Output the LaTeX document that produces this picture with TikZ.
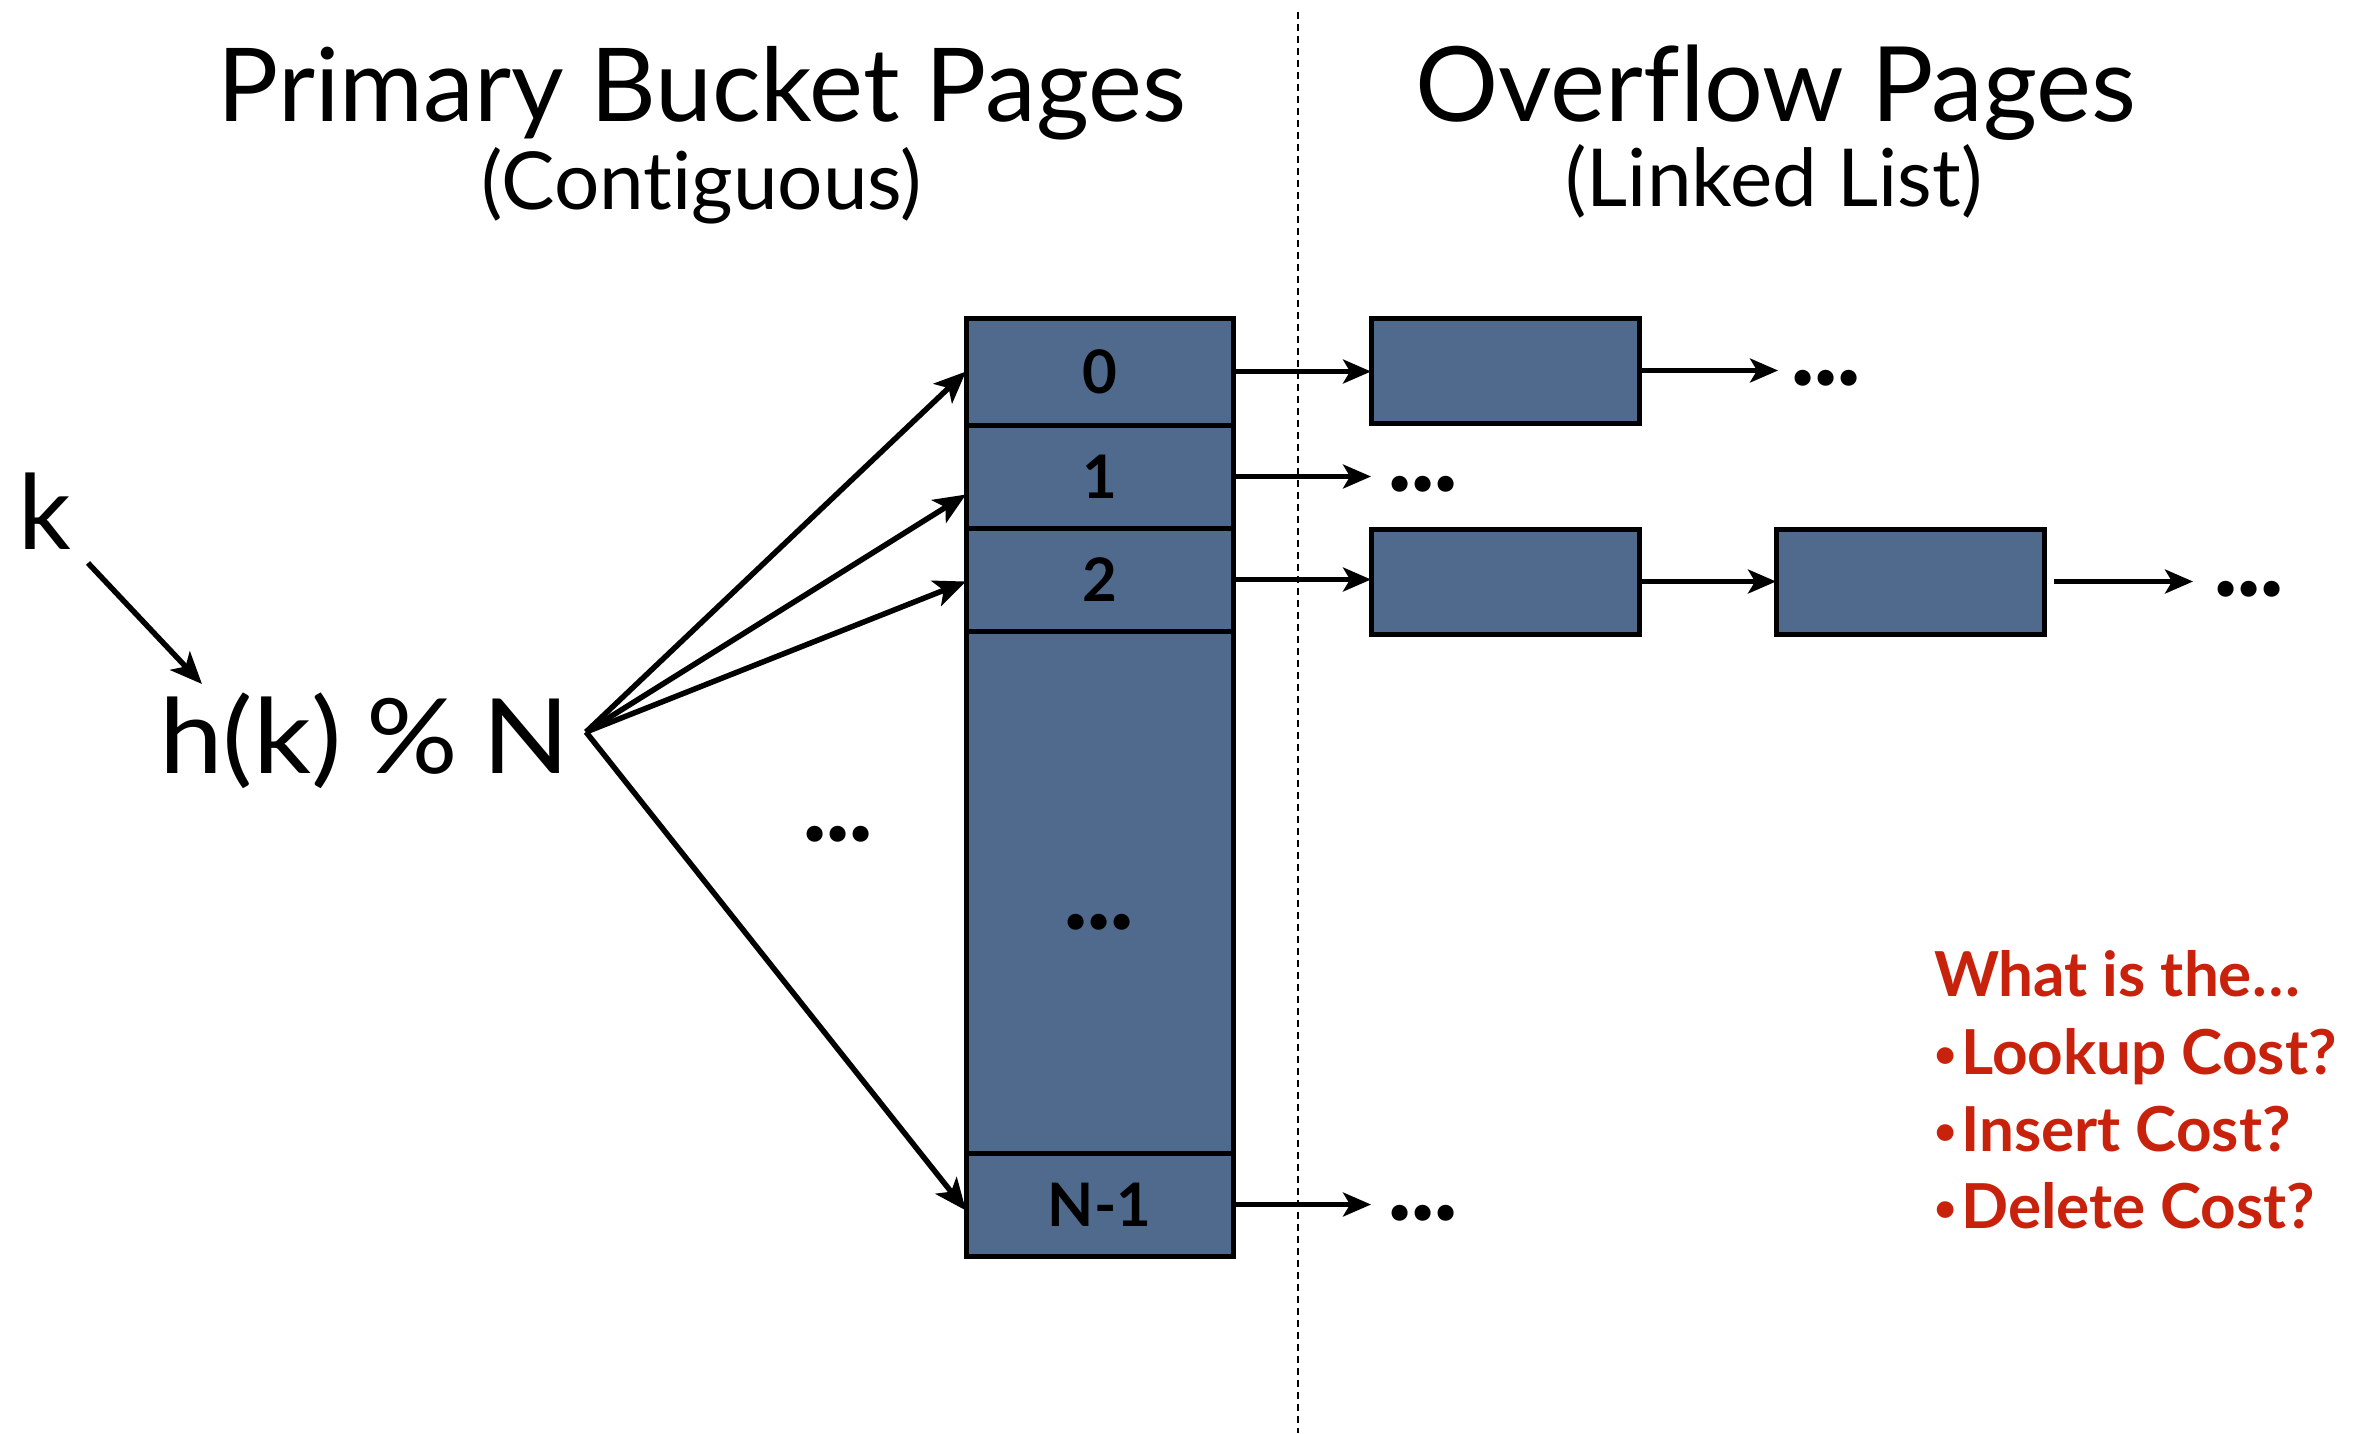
\documentclass[tikz,border=0pt]{standalone}
\usepackage{fontspec}
\setmainfont{Lato}[Ligatures=NoCommon]
\usetikzlibrary{arrows.meta,calc}
\definecolor{pagefill}{RGB}{79,106,140}
\definecolor{askred}{RGB}{200,34,12}
% three heavy dots
\newcommand\ellip{.\kern-0.02em.\kern-0.02em.}
% small raised bullet for the question list
\newcommand\qbullet{\raisebox{0.11em}{\scalebox{0.62}{\textbullet}}}
\begin{document}
\begin{tikzpicture}[x=1pt,y=-1pt,
  every node/.style={inner sep=0pt, outer sep=0pt},
  heading/.style={anchor=base, font=\fontsize{102}{102}\selectfont},
  subheading/.style={anchor=base, font=\fontsize{80}{80}\selectfont},
  expr/.style={anchor=base west, font=\fontsize{104}{104}\selectfont},
  cell/.style={draw=black, line width=5pt, fill=pagefill, minimum width=267pt,
    anchor=north west, font=\bfseries\fontsize{60}{60}\selectfont},
  ovf/.style={draw=black, line width=5pt, fill=pagefill, minimum width=268pt,
    minimum height=105pt, anchor=north west},
  dotsnode/.style={anchor=west, font=\bfseries\fontsize{106}{106}\selectfont},
  link/.style={-{Stealth[length=28pt,width=24pt,inset=7pt]}, line width=4.5pt},
  fan/.style={-{Stealth[length=32pt,width=27pt,inset=8pt]}, line width=5.5pt},
  divider/.style={line width=2pt, dash pattern=on 7pt off 5pt},
  ask/.style={anchor=base west, text=askred, font=\bfseries\fontsize{62}{62}\selectfont}
]
\useasboundingbox (0,0) rectangle (2378,1433);
\fill[white] (0,0) rectangle (2378,1433);

% column separator
\draw[divider] (1298,12) -- (1298,1433);

% headings
\node[heading] (ph) at (702,121) {Primary Bucket Pages};
\node[subheading] (ps) at (702,209) {(Contiguous)};
\node[heading, font=\fontsize{104}{104}\selectfont] (oh) at (1776,121) {Overflow Pages};
\node[subheading] (os) at (1774,206) {(Linked List)};

% key and hash expression
\node[expr] (k) at (18,549) {k};
\node[expr] (h) at (159,773) {\scalebox{1.1}[1]{h(k)\hspace{22pt}\%\hspace{22pt}N}};
\coordinate (kout) at (88,563);
\coordinate (hin) at (202,684);
\coordinate (hub) at (586,732);
\draw[fan] (kout) -- (hin);

% primary bucket pages
\node[cell, minimum height=107pt] (b0) at (966,318) {0};
\node[cell, minimum height=103pt] (b1) at (966,425) {1};
\node[cell, minimum height=103pt] (b2) at (966,528) {2};
\node[cell, minimum height=522pt] (bmid) at (966,631) {};
\node[cell, minimum height=103pt] (bN) at (966,1153) {N-1};
\node[dotsnode, anchor=center] (mdots) at (1099,922) {\ellip};
\node[dotsnode, anchor=center] (fdots) at (838,834) {\ellip};

% hash fan-out
\draw[fan] (hub) -- (b0.west);
\draw[fan] (hub) -- ($(b1.west)+(0,18)$);
\draw[fan] (hub) -- ($(b2.west)+(0,2)$);
\draw[fan] (hub) -- ($(bN.west)+(0,6)$);

% overflow pages
\node[ovf] (o0a) at (1371,318) {};
\node[ovf] (o2a) at (1371,529) {};
\node[ovf] (o2b) at (1776,529) {};

\node[dotsnode] (d0) at (1790,378) {\ellip};
\node[dotsnode] (d1) at (1387,484) {\ellip};
\node[dotsnode] (d2) at (2213,589) {\ellip};
\node[dotsnode] (dN) at (1387,1213) {\ellip};

\draw[link, shorten >=12pt] (o0a.east) -- (o0a.east -| d0.west);
\draw[link] (b0.east) -- (b0.east -| o0a.west);
\draw[link, shorten >=16pt] (b1.east) -- (b1.east -| d1.west);
\draw[link] (b2.east) -- (b2.east -| o2a.west);
\draw[link] (o2a.east) -- (o2a.east -| o2b.west);
\draw[link, shorten <=10pt, shorten >=20pt] (o2b.east) -- (o2b.east -| d2.west);
\draw[link, shorten >=16pt] (bN.east) -- (bN.east -| dN.west);

% questions
\node[ask] (q0) at (1934,996) {What is the…};
\node[ask] (q1) at (1934,1074) {\qbullet\hspace{5pt}Lookup Cost?};
\node[ask] (q2) at (1934,1151) {\qbullet\hspace{5pt}Insert Cost?};
\node[ask] (q3) at (1934,1228) {\qbullet\hspace{5pt}Delete Cost?};
\end{tikzpicture}
\end{document}
